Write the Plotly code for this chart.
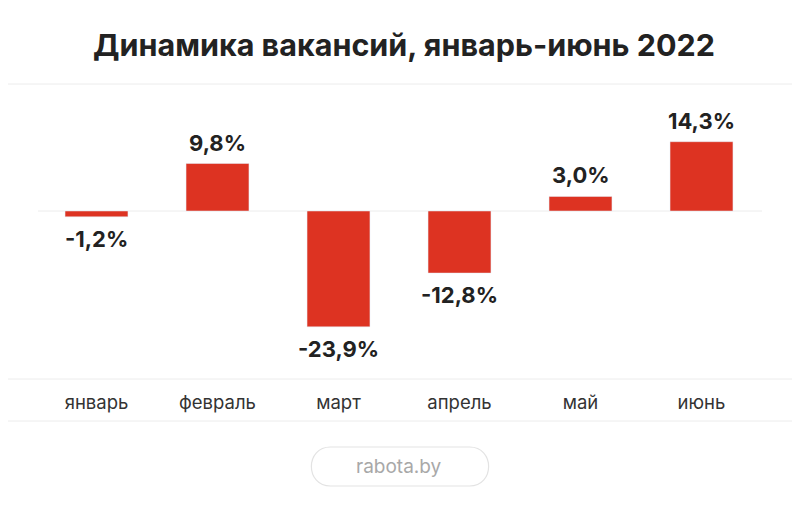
import plotly.graph_objects as go

months = ["январь", "февраль", "март", "апрель", "май", "июнь"]
change = [-1.2, 9.8, -23.9, -12.8, 3.0, 14.3]
labels = ["-1,2%", "9,8%", "-23,9%", "-12,8%", "3,0%", "14,3%"]

OFF = 8  # page body margin
W, H = 800 - OFF, 505 - OFF
L, R, T, B = 36 - OFF, 38, 100 - OFF, 135
pw, ph = W - L - R, H - T - B


def px_x(x):
    return (x - OFF - L) / pw


def px_y(y):
    return (H - B - (y - OFF)) / ph


fig = go.Figure(go.Bar(
    x=months, y=change, marker_color="#dd3322", width=0.52, hoverinfo="skip",
))

value_labels = [
    dict(x=m, y=v, text=t, showarrow=False, xref="x", yref="y", yanchor="middle",
         yshift=21 if v >= 0 else -22,
         font=dict(size=22, color="#222222", family="Inter", weight="bold"))
    for m, v, t in zip(months, change, labels)
]

# pill with rounded ends around the source text
x0, x1, y0, y1, r = 311, 489, 447, 486, 19.5
pts = (f"M {px_x(x0 + r)},{px_y(y0)} L {px_x(x1 - r)},{px_y(y0)} "
       f"C {px_x(x1 + 6)},{px_y(y0)} {px_x(x1 + 6)},{px_y(y1)} {px_x(x1 - r)},{px_y(y1)} "
       f"L {px_x(x0 + r)},{px_y(y1)} "
       f"C {px_x(x0 - 6)},{px_y(y1)} {px_x(x0 - 6)},{px_y(y0)} {px_x(x0 + r)},{px_y(y0)} Z")

line_col = "#ececec"
shapes = [
    dict(type="line", xref="paper", yref="paper", x0=px_x(0), x1=px_x(800), y0=px_y(84), y1=px_y(84),
         line=dict(color=line_col, width=1)),
    dict(type="line", xref="paper", yref="paper", x0=px_x(0), x1=px_x(800), y0=px_y(379), y1=px_y(379),
         line=dict(color=line_col, width=1)),
    dict(type="line", xref="paper", yref="paper", x0=px_x(0), x1=px_x(800), y0=px_y(421), y1=px_y(421),
         line=dict(color=line_col, width=1)),
    dict(type="line", xref="paper", yref="y", x0=px_x(38), x1=px_x(762), y0=0, y1=0,
         line=dict(color=line_col, width=1), layer="below"),
    dict(type="path", xref="paper", yref="paper", path=pts, line=dict(color="#e3e3e3", width=1.2)),
]

fig.update_layout(
    width=W, height=H, margin=dict(l=L, r=R, t=T, b=B),
    paper_bgcolor="white", plot_bgcolor="white", showlegend=False,
    font=dict(family="Inter", color="#222222"),
    title=dict(text="<b>Динамика вакансий, январь-июнь 2022</b>", x=0.5, xanchor="center",
               y=1 - (45 - OFF) / H, yanchor="middle", font=dict(size=30.5, color="#222222")),
    xaxis=dict(showgrid=False, showline=False, zeroline=False, ticks="",
               ticklabelstandoff=19, tickfont=dict(size=18.5, color="#333333")),
    yaxis=dict(range=[-32.8, 22.9], visible=False, fixedrange=True),
    shapes=shapes,
    annotations=value_labels + [
        dict(text="rabota.by", xref="paper", yref="paper", x=0.5, y=px_y(466),
             yanchor="middle", showarrow=False, font=dict(size=19, color="#a8a8a8"))],
)

fig.write_html("out.html")
